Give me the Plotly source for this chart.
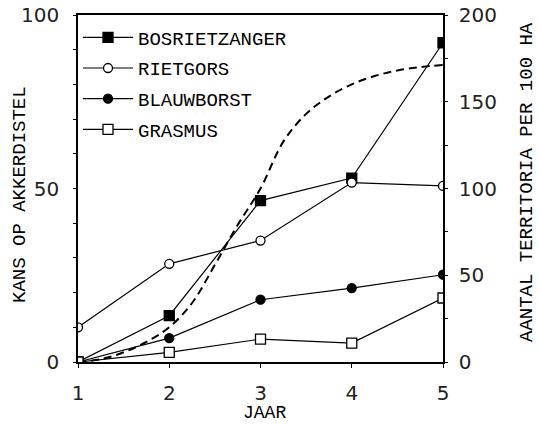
import plotly.graph_objects as go

jaar = [1, 2, 3, 4, 5]
bosrietzanger = [0, 26.7, 93, 106, 184]
rietgors = [20, 56.6, 70, 103.4, 101.5]
blauwborst = [0, 13.8, 35.9, 42.6, 50.3]
grasmus = [0, 5.5, 13.2, 10.9, 36.9]

kans_x = [1, 1.25, 1.5, 1.75, 2, 2.25, 2.5, 2.75, 3, 3.25, 3.5, 3.75, 4, 4.25, 4.5, 4.75, 5]
kans_y = [0, 0.8, 2.8, 5.8, 10, 17, 28, 39.5, 50, 63.5, 71.5, 76.5, 80, 82.4, 84, 85, 85.6]

left_ticks = [0, 50, 100]
right_ticks = [0, 50, 100, 150, 200]

mono = "Courier New, Liberation Mono, monospace"
sans = "DejaVu Sans, sans-serif"

L, R, T, B = 78, 97, 15, 63
W, H = 540, 425
pw, ph = W - L - R, H - T - B


def px_x(p):
    return (p - L) / pw


def px_y(p):
    return (H - B - p) / ph


fig = go.Figure()

fig.add_trace(go.Scatter(x=kans_x, y=kans_y, mode="lines",
                         line=dict(color="black", width=2, dash="8px,5px", shape="spline"),
                         showlegend=False, yaxis="y"))

series = [
    ("BOSRIETZANGER", bosrietzanger, "square", "black", 10),
    ("RIETGORS", rietgors, "circle", "white", 9),
    ("BLAUWBORST", blauwborst, "circle", "black", 9),
    ("GRASMUS", grasmus, "square", "white", 10),
]
for i, (name, vals, sym, fill, sz) in enumerate(series):
    fig.add_trace(go.Scatter(
        x=jaar, y=vals, name=name, mode="lines+markers", yaxis="y2",
        legendgroup=f"g{i}",
        line=dict(color="black", width=1.2),
        marker=dict(symbol=sym, size=sz, color=fill, line=dict(color="black", width=1.3)),
    ))

tickfont = dict(family=sans, size=20, color="#222")
titlefont = dict(family=mono, size=19, color="black")

fig.update_layout(
    width=W, height=H,
    margin=dict(l=L, r=R, t=T, b=B),
    paper_bgcolor="white", plot_bgcolor="white",
    showlegend=True,
    legend=dict(x=0.0, y=0.99, xanchor="left", yanchor="top", bgcolor="rgba(0,0,0,0)",
                font=dict(family=mono, size=19, color="black"),
                tracegroupgap=3, itemwidth=50, traceorder="grouped"),
    xaxis=dict(range=[1, 5], tickvals=jaar, ticks="outside", ticklen=4, tickwidth=1, tickcolor="black",
               showline=True, linecolor="black", linewidth=1.5, mirror=True, showgrid=False, zeroline=False,
               tickfont=tickfont, ticklabelstandoff=8, automargin=False),
    yaxis=dict(range=[0, 100], tickvals=left_ticks, ticks="outside", ticklen=3, tickcolor="black",
               minor=dict(dtick=10, ticks="outside", ticklen=3, tickcolor="black"),
               showline=True, linecolor="black", linewidth=1.5, showgrid=False, zeroline=False,
               tickfont=tickfont, ticklabelstandoff=10, automargin=False),
    yaxis2=dict(range=[0, 200], tickvals=right_ticks, overlaying="y", side="right", ticks="outside", ticklen=3,
                tickcolor="black", minor=dict(dtick=25, ticks="outside", ticklen=3, tickcolor="black"),
                showline=True, linecolor="black", linewidth=1.5, showgrid=False, zeroline=False,
                tickfont=tickfont, ticklabelstandoff=7, automargin=False),
    annotations=[
        dict(text="KANS OP AKKERDISTEL", xref="paper", yref="paper", x=px_x(20), y=px_y(195),
             textangle=-90, showarrow=False, font=titlefont, xanchor="center", yanchor="middle"),
        dict(text="AANTAL TERRITORIA PER 100 HA", xref="paper", yref="paper", x=px_x(527), y=px_y(182),
             textangle=-90, showarrow=False, font=titlefont, xanchor="center", yanchor="middle"),
        dict(text="JAAR", xref="paper", yref="paper", x=px_x(264), y=px_y(413),
             showarrow=False, font=dict(family=mono, size=18, color="black"), xanchor="center", yanchor="middle"),
    ],
)

fig.write_html("out.html", config={"displayModeBar": False},
               post_script="document.body.style.margin='0';document.body.style.overflow='hidden';")
